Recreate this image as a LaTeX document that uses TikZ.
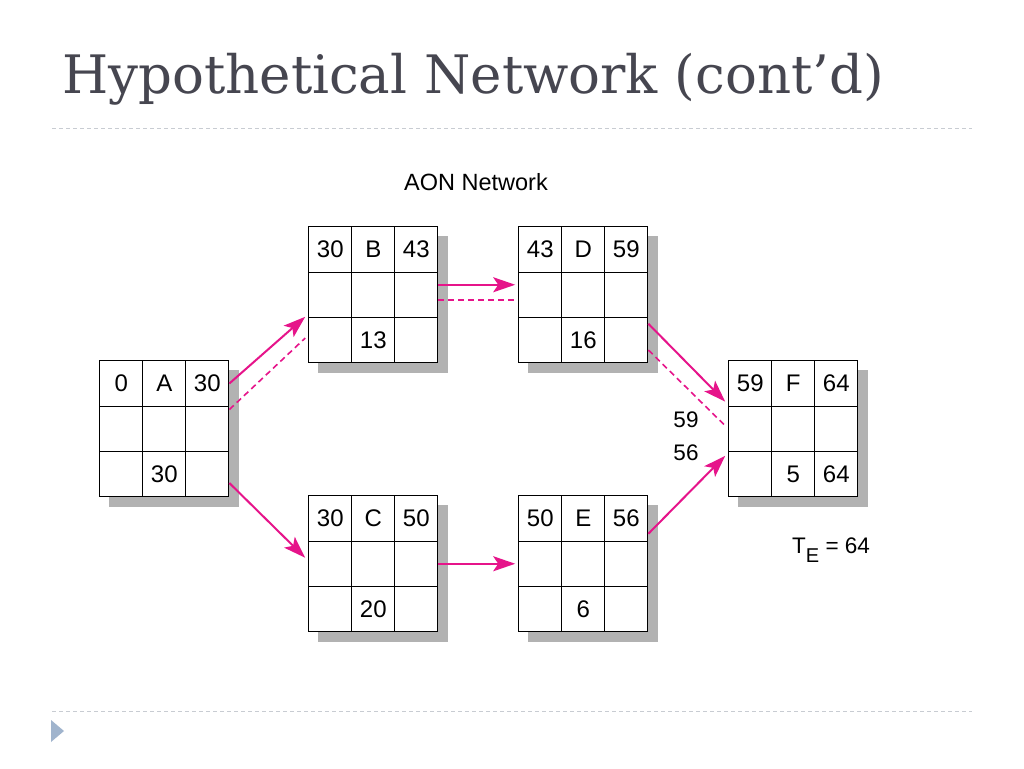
\documentclass[tikz,border=0pt]{standalone}
\usepackage{fontspec}
\newfontfamily\helv{Liberation Sans}
\newfontfamily\titlefont{DejaVu Serif}
\usetikzlibrary{matrix,shadows,arrows.meta,calc}
\definecolor{230_20_138}{RGB}{230, 20, 138}
\definecolor{70_70_80}{RGB}{70, 70, 80}
\definecolor{178_178_178}{RGB}{178, 178, 178}
\definecolor{200_204_210}{RGB}{200, 204, 210}
\definecolor{160_180_205}{RGB}{160, 180, 205}

\begin{document}
\begin{tikzpicture}[
        x=1pt, y=-1pt,
        activity/.style={
            matrix of nodes,
            nodes in empty cells,
            anchor=north west,
            inner sep=0pt,
            fill=white,
            column sep=-1.2pt,
            row sep=-1.2pt,
            drop shadow={shadow xshift=10pt, shadow yshift=-10pt, fill=178_178_178, opacity=1},
            nodes={
                draw,
                line width=1.2pt,
                minimum width=43pt,
                minimum height=45.3pt,
                inner sep=0pt,
                anchor=center,
                font=\helv\fontsize{24}{24}\selectfont
            }
        },
        critical/.style={230_20_138, line width=2pt, -{Stealth[length=22pt, width=15pt, inset=5pt]}},
        slack/.style={230_20_138, line width=1.6pt, dash pattern=on 6pt off 4pt},
        rule/.style={200_204_210, line width=1pt, dash pattern=on 4pt off 3pt},
        sidetext/.style={font=\helv\fontsize{22.5}{22.5}\selectfont, inner sep=0pt}
    ]

    \fill[white] (0,0) rectangle (1024,768);

    % title and slide rules
    \node[anchor=base west, inner sep=0pt, text=70_70_80, font=\titlefont\fontsize{53}{53}\selectfont] (title) at (62,93) {Hypothetical Network (cont’d)};
    \draw[rule] (52,128) -- (972,128);
    \draw[rule] (52,711) -- (972,711);
    \fill[160_180_205] (51,720) -- (64,731) -- (51,742) -- cycle;

    \node[sidetext, font=\helv\fontsize{23.5}{23.5}\selectfont] (aon) at (476,182) {AON Network};

    % activities
    \matrix[activity] (A) at (99,360) {0 & A & 30 \\ & & \\ & 30 & \\};
    \matrix[activity] (B) at (308,226) {30 & B & 43 \\ & & \\ & 13 & \\};
    \matrix[activity] (C) at (308,495) {30 & C & 50 \\ & & \\ & 20 & \\};
    \matrix[activity] (D) at (518,226) {43 & D & 59 \\ & & \\ & 16 & \\};
    \matrix[activity] (E) at (518,495) {50 & E & 56 \\ & & \\ & 6 & \\};
    \matrix[activity] (F) at (728,360) {59 & F & 64 \\ & & \\ & 5 & 64 \\};

    % forward pass
    \draw[critical] (A-1-3.east) -- ($(B-3-1.north west)+(-3,0)$);
    \draw[critical] ($(A-3-3.east)+(0,9)$) -- ($(C-2-1.west)+(-3,-6)$);
    \draw[critical] ($(B-2-3.east)+(0,-10)$) -- ($(D-2-1.west)+(-3,-10)$);
    \draw[critical] (C-2-3.east) -- ($(E-2-1.west)+(-3,0)$);
    \draw[critical] ($(D-3-3.north east)+(0,7)$) -- ($(F-1-1.south west)+(-3,-5)$);
    \draw[critical] ($(E-1-3.south east)+(0,-8)$) -- ($(F-3-1.north west)+(-3,5)$);

    % compared paths
    \draw[slack] ($(A-2-3.north east)+(0,4)$) -- ($(B-3-1.west)+(-3,-2)$);
    \draw[slack] ($(B-2-3.east)+(0,5)$) -- ($(D-2-1.west)+(0,5)$);
    \draw[slack] ($(D-3-3.east)+(0,10)$) -- ($(F-2-1.west)+(-3,-3)$);

    \node[sidetext] (late) at (686,420) {59};
    \node[sidetext] (early) at (686,453) {56};
    \node[sidetext, anchor=base west] (te) at (792,553) {T\lower9pt\hbox{\fontsize{20}{20}\selectfont E} = 64};
\end{tikzpicture}
\end{document}
